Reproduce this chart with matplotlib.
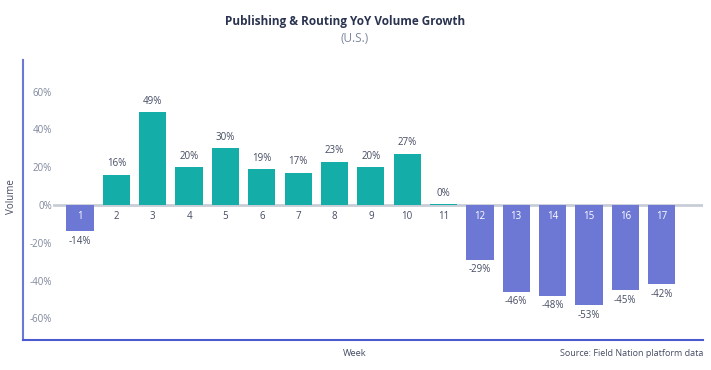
import matplotlib
matplotlib.use("Agg")
import matplotlib.pyplot as plt

weeks = [str(i) for i in range(1, 18)]
growth = [-0.14, 0.16, 0.49, 0.20, 0.30, 0.19, 0.17, 0.23, 0.20, 0.27, 0.003,
          -0.29, -0.46, -0.48, -0.53, -0.45, -0.42]
value_labels = ["-14%", "16%", "49%", "20%", "30%", "19%", "17%", "23%", "20%", "27%", "0%",
                "-29%", "-46%", "-48%", "-53%", "-45%", "-42%"]
yticks = [-0.6, -0.4, -0.2, 0.0, 0.2, 0.4, 0.6]
ytick_labels = ["-60%", "-40%", "-20%", "0%", "20%", "40%", "60%"]

plt.rcParams['font.family'] = ['Open Sans', 'DejaVu Sans']

W, H = 711, 370
fig = plt.figure(figsize=(W / 100, H / 100), dpi=100)
left, right, top, bottom = 23, 703, 60, 340
ax = fig.add_axes([left / W, 1 - bottom / H, (right - left) / W, (bottom - top) / H])

POS = "#14ADA8"
NEG = "#6C78D3"
TXT = "#454C63"
GRAY = "#7E879C"
DARK = "#2A3450"
PX = 0.72  # points per pixel

x = list(range(1, 18))
colors = [POS if v >= 0 else NEG for v in growth]
ax.bar(x, growth, width=0.75, color=colors, zorder=2)

ax.set_xlim(-0.568, 18.136)
ax.set_ylim(-0.714, 0.767)

ax.axhline(0, xmin=(54 - 23) / (703 - 23), xmax=1, color="#C9CDD6", lw=2, zorder=1)

for xi, v, lab, w in zip(x, growth, value_labels, weeks):
    if v >= 0:
        ax.annotate(lab, (xi, v), xytext=(0, 11 * PX), textcoords="offset points",
                    ha="center", va="center", fontsize=7, color=TXT)
        ax.annotate(w, (xi, 0), xytext=(0, -11 * PX), textcoords="offset points",
                    ha="center", va="center", fontsize=7, color=TXT)
    else:
        ax.annotate(lab, (xi, v), xytext=(0, -10 * PX), textcoords="offset points",
                    ha="center", va="center", fontsize=7, color=TXT)
        ax.annotate(w, (xi, 0), xytext=(0, -11 * PX), textcoords="offset points",
                    ha="center", va="center", fontsize=7, color="white")

ax.set_yticks(yticks)
ax.set_yticklabels(ytick_labels)
ax.tick_params(axis="y", length=0, pad=-29 * PX, labelsize=7, labelcolor=GRAY)
for t in ax.get_yticklabels():
    t.set_horizontalalignment("right")
ax.set_xticks([])

for s in ["top", "right"]:
    ax.spines[s].set_visible(False)
ax.spines["left"].set_color(NEG)
ax.spines["left"].set_linewidth(1.5)
ax.spines["bottom"].set_color("#4A5BD0")
ax.spines["bottom"].set_linewidth(1.5)

fig.text(345 / W, 1 - 21 / H, "Publishing & Routing YoY Volume Growth", ha="center", va="center",
         fontsize=8.5, fontweight="bold", color=DARK)
fig.text(355 / W, 1 - 39 / H, "(U.S.)", ha="center", va="center", fontsize=8.5, color=GRAY)
fig.text(12 / W, 1 - 197 / H, "Volume", ha="center", va="center", rotation=90, fontsize=7, color=TXT)
fig.text(355 / W, 1 - 353 / H, "Week", ha="center", va="center", fontsize=6.7, color=TXT)
fig.text(703 / W, 1 - 353 / H, "Source: Field Nation platform data", ha="right", va="center",
         fontsize=6.5, color=TXT)

fig.savefig("out.png", dpi=100)
